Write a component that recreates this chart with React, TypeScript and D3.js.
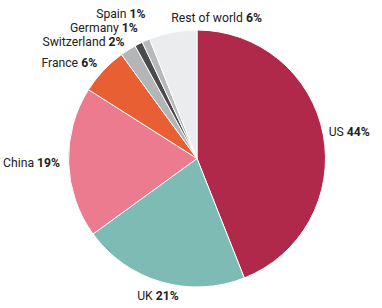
import React from "react";
import * as d3 from "d3";

const countries = ["US", "UK", "China", "France", "Switzerland", "Germany", "Spain", "Rest of world"];
const shares = [44, 21, 19, 6, 2, 1, 1, 6];
const colors = ["#b0294b", "#7fbbb5", "#ed7b8f", "#e85f33", "#b4b5b7", "#4b4b4d", "#b8b9bb", "#ebeced"];

// label layout nudges (pixels), keyed by country
const labelNudge: Record<string, [number, number]> = {
  US: [0, -2],
  UK: [0, 3],
  China: [0, 0],
  France: [0, -2],
  Switzerland: [1, -1],
  Germany: [3, -8.4],
  Spain: [3, -18.7],
  "Rest of world": [0, -6],
};

const W = 382;
const H = 308;
const cx = 197;
const cy = 158.5;
const R = 128.5;

export default function App() {
  const data = countries.map((c, i) => ({ name: c, value: shares[i], color: colors[i] }));
  const pie = d3.pie<any>().sort(null).value((d) => d.value);
  const arcs = pie(data);
  const arc = d3.arc<any>().innerRadius(0).outerRadius(R);
  return (
    <svg width={W} height={H} style={{ position: "absolute", left: 0, top: 0, background: "#fff" }}>
      <g transform={`translate(${cx},${cy})`}>
        {arcs.map((a, i) => (
          <path key={i} d={arc(a) as string} fill={a.data.color} stroke="#fff" strokeWidth={1} />
        ))}
        {arcs.map((a, i) => {
          const mid = (a.startAngle + a.endAngle) / 2;
          const name = a.data.name;
          const r = name === "UK" ? 140 : name === "US" ? 134 : 137;
          const [nx, ny] = labelNudge[name];
          const x = Math.sin(mid) * r + nx;
          const y = -Math.cos(mid) * r + ny;
          const s = Math.sin(mid);
          const anchor = name === "UK" ? "middle" : s > 0 || name === "Rest of world" ? "start" : "end";
          return (
            <text
              key={"t" + i}
              x={x}
              y={y}
              dy="0.36em"
              textAnchor={anchor}
              fontFamily="Roboto, sans-serif"
              fontSize={12.2}
              fill="#222"
            >
              {name} <tspan fontWeight="bold">{a.data.value}%</tspan>
            </text>
          );
        })}
      </g>
    </svg>
  );
}
